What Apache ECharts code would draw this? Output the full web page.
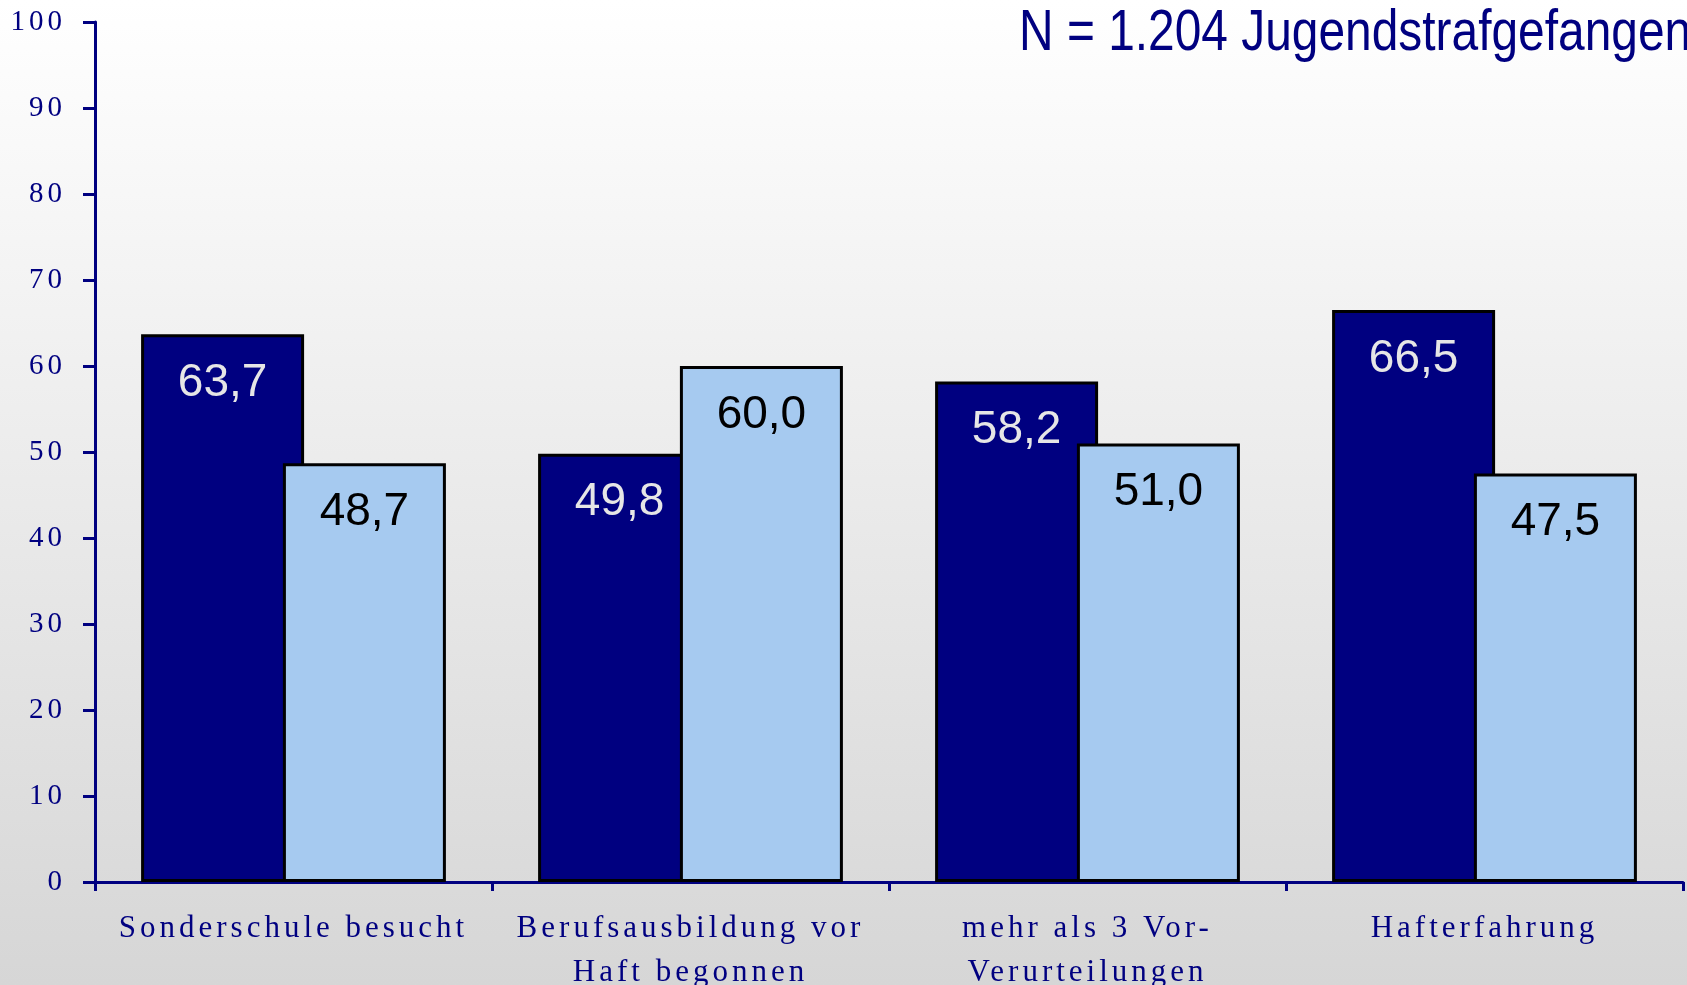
<!DOCTYPE html>
<html>
<head>
<meta charset="utf-8">
<script src="https://cdn.jsdelivr.net/npm/echarts@6/dist/echarts.min.js"></script>
<style>
    html, body { margin: 0; padding: 0; }
    #myChart { width: 1687px; height: 985px; }
</style>
</head>
<body>
<div id="myChart"></div>
<script>
    // Kategorien und Werte (Prozent)
    const categories = ['Sonderschule besucht', 'Berufsausbildung vor\nHaft begonnen', 'mehr als 3 Vor-\nVerurteilungen', 'Hafterfahrung']
    const darkValues = [63.7, 49.8, 58.2, 66.5]
    const lightValues = [48.7, 60.0, 51.0, 47.5]
    const yTicks = [0, 10, 20, 30, 40, 50, 60, 70, 80, 90, 100]
    const titleText = 'N = 1.204 Jugendstrafgefangene'

    const navy = '#000080'
    const serif = '"Liberation Serif", "DejaVu Serif", serif'
    const sans = '"Liberation Sans", Arial, sans-serif'

    // die Achsenbeschriftung im Original ist gesperrt gesetzt
    const origFill = CanvasRenderingContext2D.prototype.fillText
    CanvasRenderingContext2D.prototype.fillText = function (t, x, y, w) {
        this.letterSpacing = /Liberation Serif/.test(this.font) ? '4px' : '0px'
        return w === undefined ? origFill.call(this, t, x, y) : origFill.call(this, t, x, y, w)
    }

    function fmt(p) {
        return p.value.toFixed(1).replace('.', ',')
    }

    const option = {
        animation: false,
        backgroundColor: {
            type: 'linear', x: 0, y: 0, x2: 0, y2: 1,
            colorStops: [{offset: 0, color: '#FFFFFF'}, {offset: 1, color: '#D6D6D6'}]
        },
        graphic: [{
            type: 'text',
            x: 1019, y: 34,
            scaleX: 0.84,
            style: {
                text: titleText,
                fill: navy,
                font: '57px "Liberation Sans", Arial, sans-serif',
                verticalAlign: 'middle'
            }
        }],
        grid: {left: 95, right: 4, top: 22, bottom: 103, containLabel: false, outerBoundsMode: 'none'},
        xAxis: {
            type: 'category',
            data: categories,
            axisLine: {lineStyle: {color: navy, width: 3}},
            axisTick: {show: true, length: 9, lineStyle: {color: navy, width: 3}},
            axisLabel: {color: navy, fontFamily: serif, fontSize: 31, lineHeight: 44, margin: 25, interval: 0}
        },
        yAxis: {
            type: 'value',
            min: yTicks[0], max: yTicks[yTicks.length - 1], interval: 10,
            splitLine: {show: false},
            axisLine: {show: true, lineStyle: {color: navy, width: 3}},
            axisTick: {show: true, length: 12, lineStyle: {color: navy, width: 3}},
            axisLabel: {color: navy, fontFamily: serif, fontSize: 29, margin: 29}
        },
        series: [
            {
                type: 'bar',
                data: darkValues,
                barWidth: 163,
                barGap: '-13%',
                itemStyle: {color: navy, borderColor: '#000000', borderWidth: 3},
                label: {
                    show: true, position: 'insideTop', distance: 26, formatter: fmt,
                    color: '#E6E6E6', fontSize: 46, fontFamily: sans
                }
            },
            {
                type: 'bar',
                data: lightValues,
                barWidth: 163,
                itemStyle: {color: '#A6CAF0', borderColor: '#000000', borderWidth: 3},
                label: {
                    show: true, position: 'insideTop', distance: 26, formatter: fmt,
                    color: '#000000', fontSize: 46, fontFamily: sans
                }
            }
        ]
    }

    const myChart = echarts.init(document.getElementById('myChart'))
    myChart.setOption(option)
</script>
</body>
</html>
